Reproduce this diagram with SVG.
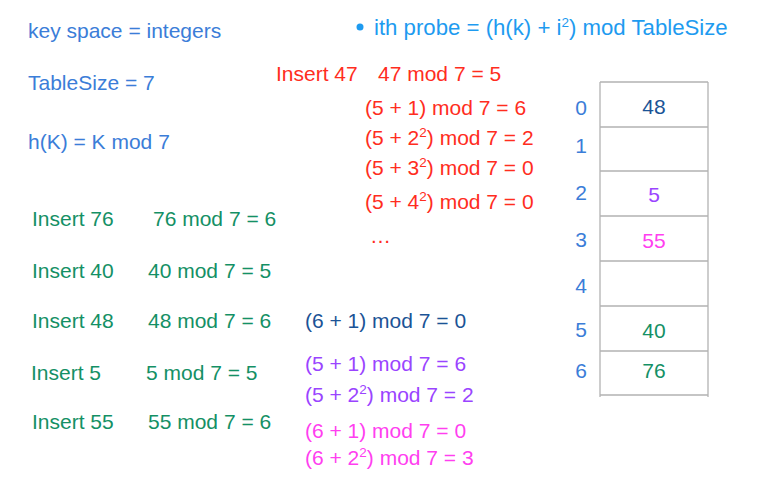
<svg xmlns="http://www.w3.org/2000/svg" width="759" height="482" viewBox="0 0 759 482">
<style>
text{font-family:"Liberation Sans",Arial,sans-serif;font-size:21px}
.b{fill:#3b7dd8}
.lb{fill:#1e9bf0;font-size:22.2px}
.r{fill:#ff2d1e}
.g{fill:#149065}
.db{fill:#1b5396}
.p{fill:#9a44ff}
.m{fill:#ff3ff0}
.c{text-anchor:middle}
.grid{stroke:#b3b3b3;stroke-width:1.3;fill:none}
</style>
<rect width="759" height="482" fill="#ffffff"/>
<g id="definitions">
<text class="b" x="28" y="38">key space = integers</text>
<text class="b" x="28" y="90">TableSize = 7</text>
<text class="b" x="28" y="149">h(K) = K mod 7</text>
</g>
<g id="probe-rule">
<circle cx="360" cy="27" r="3.5" fill="#1e9bf0"/>
<text class="lb" x="374" y="35">ith probe = (h(k) + i<tspan font-size="13.5" dy="-8">2</tspan><tspan dy="8">) mod TableSize</tspan></text>
</g>
<g id="insert47">
<text class="r" x="276" y="81">Insert 47</text>
<text class="r" x="378" y="81">47 mod 7 = 5</text>
<text class="r" x="365" y="115">(5 + 1) mod 7 = 6</text>
<text class="r" x="365" y="145">(5 + 2<tspan font-size="13.5" dy="-8">2</tspan><tspan dy="8">) mod 7 = 2</tspan></text>
<text class="r" x="365" y="175">(5 + 3<tspan font-size="13.5" dy="-8">2</tspan><tspan dy="8">) mod 7 = 0</tspan></text>
<text class="r" x="365" y="209">(5 + 4<tspan font-size="13.5" dy="-8">2</tspan><tspan dy="8">) mod 7 = 0</tspan></text>
<text class="r" x="370" y="243">…</text>
</g>
<g id="inserts">
<text class="g" x="32" y="226">Insert 76</text>
<text class="g" x="153" y="226">76 mod 7 = 6</text>
<text class="g" x="32" y="278">Insert 40</text>
<text class="g" x="148" y="278">40 mod 7 = 5</text>
<text class="g" x="32" y="328">Insert 48</text>
<text class="g" x="148" y="328">48 mod 7 = 6</text>
<text class="db" x="305" y="328">(6 + 1) mod 7 = 0</text>
<text class="g" x="31" y="380">Insert 5</text>
<text class="g" x="146" y="380">5 mod 7 = 5</text>
<text class="p" x="305" y="371">(5 + 1) mod 7 = 6</text>
<text class="p" x="305" y="402">(5 + 2<tspan font-size="13.5" dy="-8">2</tspan><tspan dy="8">) mod 7 = 2</tspan></text>
<text class="g" x="32" y="429">Insert 55</text>
<text class="g" x="148" y="429">55 mod 7 = 6</text>
<text class="m" x="305" y="438">(6 + 1) mod 7 = 0</text>
<text class="m" x="305" y="465">(6 + 2<tspan font-size="13.5" dy="-8">2</tspan><tspan dy="8">) mod 7 = 3</tspan></text>
</g>
<g id="table">
<path class="grid" d="M600,82V397M708,82V397M600,82H708M600,127H708M600,171H708M600,216H708M600,261H708M600,306H708M600,351H708M600,395H708"/>
<text class="b c" x="581" y="115">0</text>
<text class="b c" x="581" y="153">1</text>
<text class="b c" x="581" y="200">2</text>
<text class="b c" x="581" y="247">3</text>
<text class="b c" x="581" y="293">4</text>
<text class="b c" x="581" y="337">5</text>
<text class="b c" x="581" y="378">6</text>
<text class="db c" x="654" y="114">48</text>
<text class="p c" x="654" y="202">5</text>
<text class="m c" x="654" y="248">55</text>
<text class="g c" x="654" y="338">40</text>
<text class="g c" x="654" y="378">76</text>
</g>
</svg>
